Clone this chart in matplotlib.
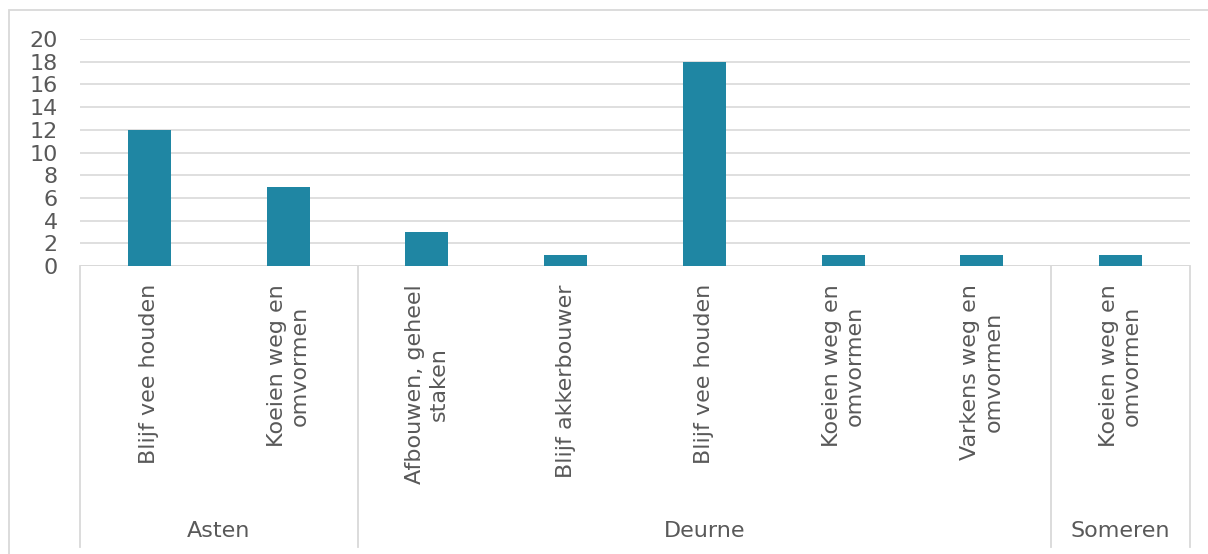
import matplotlib
matplotlib.use('Agg')
import matplotlib.pyplot as plt
from matplotlib.patches import Rectangle
import numpy as np

plt.rcParams['font.family'] = 'DejaVu Sans'

gemeenten = ['Asten', 'Deurne', 'Someren']
aantal_per_gemeente = [2, 5, 1]
categorieen = ['Blijf vee houden', 'Koeien weg en\nomvormen',
               'Afbouwen, geheel\nstaken', 'Blijf akkerbouwer',
               'Blijf vee houden', 'Koeien weg en\nomvormen',
               'Varkens weg en\nomvormen', 'Koeien weg en\nomvormen']
waarden = [12, 7, 3, 1, 18, 1, 1, 1]

tekst = '#595959'
lijn = '#d9d9d9'

fig = plt.figure(figsize=(12.08, 5.54), dpi=100)
fig.patches.append(Rectangle((9 / 1208, -0.1), 1.2, (554 - 10) / 554 + 0.1,
                             transform=fig.transFigure, fill=False,
                             edgecolor=lijn, linewidth=1.3))
ax = fig.add_axes([80 / 1208, (554 - 266) / 554, 1110 / 1208, 227 / 554])

x = np.arange(len(waarden))
ax.bar(x, waarden, width=0.31, color='#1f86a3', zorder=3)

ax.set_xlim(-0.5, len(waarden) - 0.5)
ax.set_ylim(0, 20)
ax.set_yticks(np.arange(0, 21, 2))
ax.tick_params(axis='y', length=0, labelsize=16, labelcolor=tekst, pad=16)
ax.set_xticks([])
ax.grid(axis='y', color=lijn, linewidth=1.2, zorder=0)
for s in ax.spines.values():
    s.set_visible(False)
ax.axhline(0, color=lijn, linewidth=1.3, zorder=2)

trans = ax.get_xaxis_transform()
for xi, lab in zip(x, categorieen):
    ax.text(xi, -0.08, lab, rotation=90, ha='center', va='top',
            multialignment='center', fontsize=16, color=tekst,
            transform=trans, linespacing=1.2)

grenzen = np.concatenate([[0], np.cumsum(aantal_per_gemeente)]) - 0.5
for g in grenzen:
    ax.plot([g, g], [0, -1.238], transform=trans, color=lijn,
            linewidth=1.3, clip_on=False)
for naam, a, b in zip(gemeenten, grenzen[:-1], grenzen[1:]):
    ax.text((a + b) / 2, -1.167, naam, ha='center', va='center',
            fontsize=16, color=tekst, transform=trans)

fig.savefig('out.png', dpi=100)
